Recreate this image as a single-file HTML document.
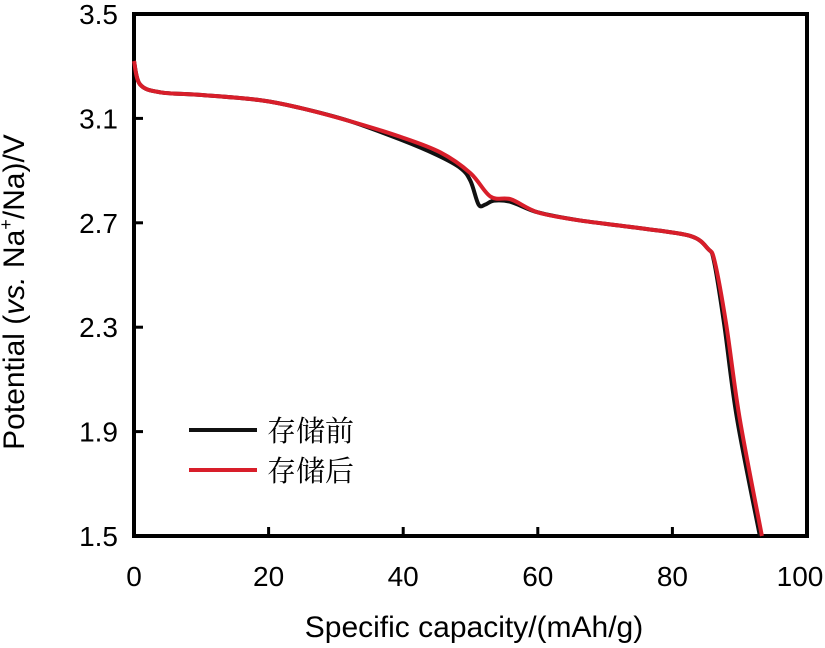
<!DOCTYPE html>
<html><head><meta charset="utf-8"><style>
body{margin:0;background:#fff}
svg text{font-family:"Liberation Sans",Arial,sans-serif;fill:#000}
</style></head><body>
<svg id="chart" width="825" height="643" viewBox="0 0 825 643" xmlns="http://www.w3.org/2000/svg">
<g id="axes"></g>
<g id="series"></g>
<g id="legend">
 <line x1="189" y1="430" x2="257" y2="430" stroke="#111" stroke-width="4"/>
 <text x="267" y="441" font-size="29" style="font-family:'Noto Serif CJK SC',serif">存储前</text>
 <line x1="189" y1="470" x2="257" y2="470" stroke="#d81e2a" stroke-width="4"/>
 <text x="267" y="481" font-size="29" style="font-family:'Noto Serif CJK SC',serif">存储后</text>
</g>
<text x="474" y="637" font-size="30" text-anchor="middle">Specific capacity/(mAh/g)</text>
<text transform="translate(24,292) rotate(-90)" font-size="30" text-anchor="middle">Potential (<tspan font-style="italic">vs.</tspan> Na<tspan font-size="18" dy="-12">+</tspan><tspan dy="12">/Na)/V</tspan></text>
</svg>
<script>
const xTicks=[0,20,40,60,80,100];
const yTicks=[1.5,1.9,2.3,2.7,3.1,3.5];
const yTickLabels=["1.5","1.9","2.3","2.7","3.1","3.5"];
const capBefore=[0,0.9,3.9,9.8,18.7,24.7,32,39.5,45,48.5,50,51.2,52.2,53.5,56,60,66,75,82.6,85.3,86.2,87.7,89.6,93.0];
const vBefore=[3.32,3.23,3.20,3.19,3.17,3.14,3.09,3.02,2.96,2.91,2.86,2.77,2.77,2.785,2.78,2.74,2.71,2.68,2.65,2.60,2.55,2.31,1.95,1.5];
const capAfter=[0,0.9,3.9,9.8,18.7,24.7,32,39.5,45.5,50,53,56,60,66,75,82.6,85.3,86.3,88,90,93.3];
const vAfter=[3.32,3.23,3.20,3.19,3.17,3.14,3.09,3.03,2.97,2.89,2.80,2.79,2.74,2.71,2.68,2.65,2.60,2.55,2.31,1.95,1.5];
const X0=134,X1=807,Y0=536,Y1=14;
const sx=v=>X0+(v-0)/(100-0)*(X1-X0);
const sy=v=>Y0-(v-1.5)/(3.5-1.5)*(Y0-Y1);
const NS="http://www.w3.org/2000/svg";
const axes=document.getElementById('axes');
function mk(tag,attrs,parent){const e=document.createElementNS(NS,tag);for(const k in attrs)e.setAttribute(k,attrs[k]);parent.appendChild(e);return e;}
const frame=mk('rect',{x:X0,y:Y1,width:X1-X0,height:Y0-Y1,fill:'none',stroke:'#000','stroke-width':4},axes);


xTicks.forEach(t=>{
 const l=mk('line',{x1:sx(t),x2:sx(t),y1:Y0,y2:Y0-9,stroke:'#000','stroke-width':3},axes);
 
 
 const tx=mk('text',{x:Math.min(sx(t),800),y:586,'font-size':28,'text-anchor':'middle'},axes);
 tx.textContent=t;
 
 
});
yTicks.forEach((t,i)=>{
 const l=mk('line',{x1:X0,x2:X0+9,y1:sy(t),y2:sy(t),stroke:'#000','stroke-width':3},axes);
 
 
 const tx=mk('text',{x:118,y:sy(t)+10,'font-size':28,'text-anchor':'end'},axes);
 tx.textContent=yTickLabels[i];
 
 
});
function smooth(xs,ys){
 const p=xs.map((x,i)=>[sx(x),sy(ys[i])]);
 let d=`M${p[0][0]},${p[0][1]}`;
 for(let i=0;i<p.length-1;i++){
  const p0=p[i-1]||p[i],p1=p[i],p2=p[i+1],p3=p[i+2]||p2;
  const c1=[p1[0]+(p2[0]-p0[0])/6,p1[1]+(p2[1]-p0[1])/6];
  const c2=[p2[0]-(p3[0]-p1[0])/6,p2[1]-(p3[1]-p1[1])/6];
  d+=` C${c1[0]},${c1[1]} ${c2[0]},${c2[1]} ${p2[0]},${p2[1]}`;
 }
 return d;
}
const ser=document.getElementById('series');
const pb=mk('path',{d:smooth(capBefore,vBefore),fill:'none',stroke:'#111','stroke-width':4,'stroke-linejoin':'round'},ser);


const pa=mk('path',{d:smooth(capAfter,vAfter),fill:'none',stroke:'#d81e2a','stroke-width':4,'stroke-linejoin':'round'},ser);


</script>
</body></html>
